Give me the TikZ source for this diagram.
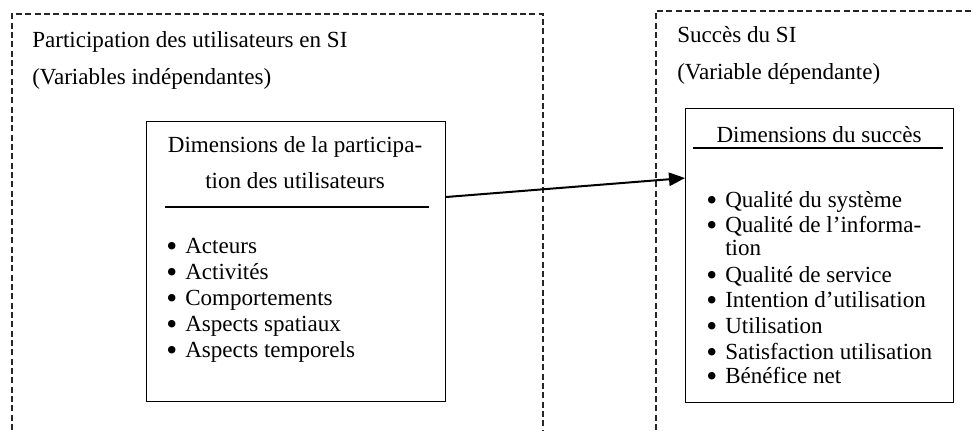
\documentclass[tikz,border=0pt]{standalone}
\usepackage{fontspec}
\setmainfont{Liberation Serif}
\usetikzlibrary{arrows.meta}
\newcommand\bul{\makebox[14.25pt][l]{\raisebox{-0.17em}{\scalebox{1.35}{•}}}}
\newcommand\nobul{\hspace*{14.25pt}}
\begin{document}
\begin{tikzpicture}[x=0.75pt,y=-0.75pt,
  dashbox/.style={draw=black!85, line width=0.8pt, dash pattern=on 4.5pt off 2.5pt},
  innerbox/.style={draw, line width=0.8pt, inner sep=0pt, anchor=north west},
  txt/.style={anchor=base west, inner sep=0pt, font=\fontsize{17.3pt}{20pt}\selectfont},
  ctxt/.style={anchor=base, inner sep=0pt, font=\fontsize{17.3pt}{20pt}\selectfont},
  rulel/.style={line width=1.1pt},
  link/.style={line width=1.5pt, -{Triangle[length=12pt,width=10pt]}}]
\useasboundingbox (0,0) rectangle (973,430);
% dashed groups
\draw[dashbox] (12,430) -- (12,14) -- (543,14) -- (543,430);
\draw[dashbox] (656,430) -- (656,11) -- (973,11);
\node[txt] (t1) at (32,47) {Participation des utilisateurs en SI};
\node[txt] (t2) at (32,84) {(Variables indépendantes)};
\node[txt] (t3) at (677,42) {Succès du SI};
\node[txt] (t4) at (677,79) {(Variable dépendante)};
% left inner box
\node[innerbox, minimum width=224.25pt, minimum height=210pt] (lbox) at (146,121) {};
\node[ctxt] (lh1) at (295,152) {Dimensions de la participa-};
\node[ctxt] (lh2) at (295,188) {tion des utilisateurs};
\draw[rulel] (165,207) -- (429,207);
\node[txt] (l1) at (166,253) {\bul Acteurs};
\node[txt] (l2) at (166,279) {\bul Activités};
\node[txt] (l3) at (166,305) {\bul Comportements};
\node[txt] (l4) at (166,331) {\bul Aspects spatiaux};
\node[txt] (l5) at (166,357) {\bul Aspects temporels};
% right inner box
\node[innerbox, minimum width=201pt, minimum height=220.5pt] (rbox) at (685,108) {};
\node[ctxt] (rh) at (819,142) {Dimensions du succès};
\draw[rulel] (693,148) -- (943,148);
\node[txt] (r1) at (706,207) {\bul Qualité du système};
\node[txt] (r2) at (706,232) {\bul Qualité de l’informa-};
\node[txt] (r2b) at (706,255) {\nobul tion};
\node[txt] (r3) at (706,282) {\bul Qualité de service};
\node[txt] (r4) at (706,307) {\bul Intention d’utilisation};
\node[txt] (r5) at (706,333) {\bul Utilisation};
\node[txt] (r6) at (706,359) {\bul Satisfaction utilisation};
\node[txt] (r7) at (706,383) {\bul Bénéfice net};
% connector
\path (lbox.north east) ++(0,76) coordinate (as);
\path (rbox.north west) ++(0,70) coordinate (ae);
\draw[link] (as) -- (ae);
\end{tikzpicture}
\end{document}
